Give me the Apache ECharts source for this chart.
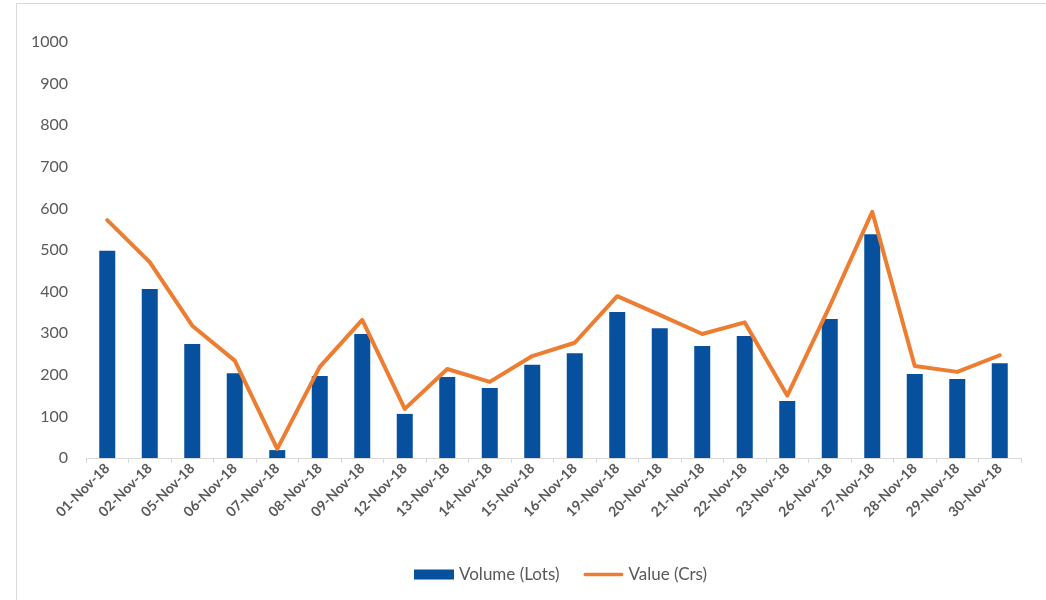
<!DOCTYPE html>
<html>
<head>
<meta charset="utf-8">
<title>Volume and Value - Nov 2018</title>
<script src="https://cdn.jsdelivr.net/npm/echarts@6/dist/echarts.min.js"></script>
<style>
    html, body { margin: 0; padding: 0; background: #fff; }
    .frame { position: absolute; left: 16px; top: 3px; width: 1100px; height: 700px; border: 1px solid #d9d9d9; }
    .chart { position: absolute; left: 0; top: 0; width: 1046px; height: 600px; }
</style>
</head>
<body>
<div class="frame"></div>
<div class="chart"></div>
<script>
// data
var days = ["01-Nov-18", "02-Nov-18", "05-Nov-18", "06-Nov-18", "07-Nov-18", "08-Nov-18",
    "09-Nov-18", "12-Nov-18", "13-Nov-18", "14-Nov-18", "15-Nov-18", "16-Nov-18",
    "19-Nov-18", "20-Nov-18", "21-Nov-18", "22-Nov-18", "23-Nov-18", "26-Nov-18",
    "27-Nov-18", "28-Nov-18", "29-Nov-18", "30-Nov-18"];
var volumeLots = [498, 406, 274, 204, 19, 197, 298, 106, 195, 168, 224, 252,
    351, 312, 269, 293, 137, 334, 538, 202, 190, 228];
var valueCrs = [572, 471, 318, 234, 22, 219, 332, 118, 214, 183, 245, 277,
    389, 344, 298, 326, 150, 365, 592, 221, 207, 247];

(function () {
    var myChart = echarts.init(document.querySelector(".chart"));
    var font = "Lato, 'Noto Sans', sans-serif";
    var option = {
        animation: false,
        color: ['#07509d', '#ed7d31'],
        grid: {
            left: 86,
            right: 25,
            top: 42,
            bottom: 142
        },
        legend: {
            left: 409,
            top: 561,
            itemGap: 24,
            itemWidth: 40,
            itemHeight: 10,
            textStyle: {
                color: '#595959',
                fontSize: 17,
                fontFamily: font
            },
            data: [
                { name: 'Volume (Lots)', icon: 'rect' },
                // 粗线图例，不带圆点
                { name: 'Value (Crs)', icon: 'path://M2,0 L42,0 A2,2 0 0 1 42,4 L2,4 A2,2 0 0 1 2,0 Z' }
            ]
        },
        xAxis: {
            type: 'category',
            data: days,
            boundaryGap: true,
            axisLine: {
                lineStyle: { color: '#d9d9d9', width: 1 }
            },
            axisTick: {
                show: true,
                length: 5,
                lineStyle: { color: '#d9d9d9' }
            },
            axisLabel: {
                interval: 0,
                rotate: 45,
                margin: 8,
                color: '#595959',
                fontSize: 14,
                fontWeight: 'bold',
                fontFamily: font
            }
        },
        yAxis: {
            type: 'value',
            min: 0,
            max: 1000,
            interval: 100,
            axisLine: { show: false },
            axisTick: { show: false },
            splitLine: { show: false },
            axisLabel: {
                margin: 18,
                color: '#595959',
                fontSize: 16,
                fontFamily: font,
                formatter: function (v) { return String(v); }
            }
        },
        series: [
            {
                name: 'Volume (Lots)',
                type: 'bar',
                barWidth: 16,
                data: volumeLots
            },
            {
                name: 'Value (Crs)',
                type: 'line',
                symbol: 'none',
                lineStyle: { width: 4, cap: 'round', join: 'round' },
                data: valueCrs
            }
        ]
    };
    myChart.setOption(option);
})();
</script>
</body>
</html>
